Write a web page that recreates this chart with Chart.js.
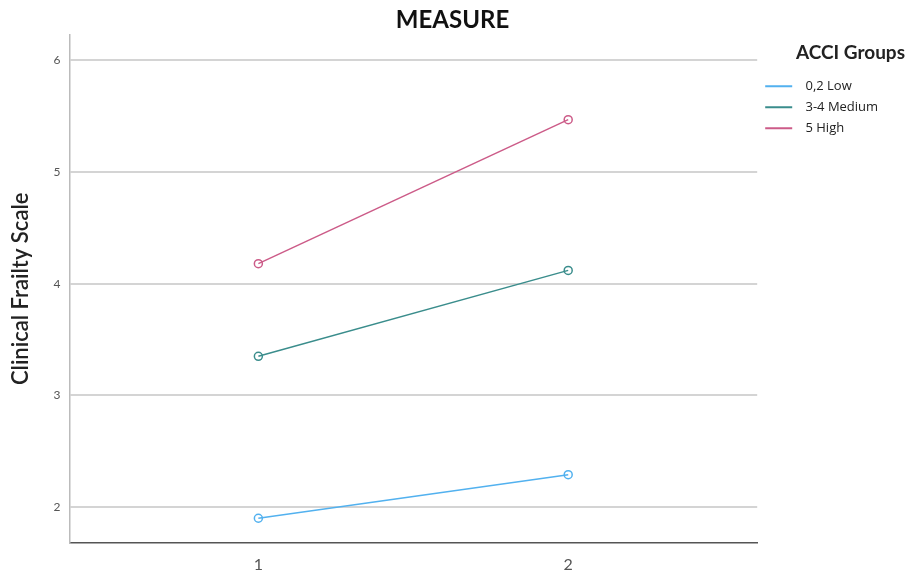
<!DOCTYPE html>
<html>
<head>
<meta charset="utf-8">
<script src="https://cdn.jsdelivr.net/npm/chart.js@4/dist/chart.umd.min.js"></script>
<style>
  body { margin: 0; background: #fff; }
  #wrap { width: 909px; height: 571px; }
</style>
</head>
<body>
<div id="wrap"><canvas id="measureChart"></canvas></div>
<script>
// data
const measures = [1, 2];
const groupNames = ['0,2 Low', '3-4 Medium', '5 High'];
const lowValues = [1.90, 2.29];
const mediumValues = [3.35, 4.12];
const highValues = [4.18, 5.47];
const yTicks = [2, 3, 4, 5, 6];
const groupColors = ['#52b1ef', '#3a8d8c', '#cc5b88'];

function toPoints(values) {
  return measures.map((m, i) => ({ x: m, y: values[i] }));
}

const seriesValues = [lowValues, mediumValues, highValues];

var ctx = document.getElementById('measureChart').getContext('2d');
var measureChart = new Chart(ctx, {
  type: 'line',
  data: {
    datasets: groupNames.map((name, i) => ({
      label: name,
      data: toPoints(seriesValues[i]),
      borderColor: groupColors[i],
      backgroundColor: groupColors[i],
      borderWidth: 1.5,
      pointRadius: 4,
      pointBorderWidth: 1.5,
      pointBackgroundColor: 'rgba(255,255,255,0)',
      pointBorderColor: groupColors[i]
    }))
  },
  options: {
    responsive: true,
    maintainAspectRatio: false,
    animation: false,
    layout: { padding: { top: 6, right: 4, bottom: -15, left: 0 } },
    plugins: {
      title: {
        display: true,
        text: 'MEASURE',
        font: { family: 'Lato', size: 24, weight: 'bold' },
        color: '#111',
        padding: { top: 0, bottom: 0 }
      },
      legend: {
        position: 'right',
        align: 'start',
        title: {
          display: true,
          text: 'ACCI Groups',
          position: 'end',
          font: { family: 'Lato', size: 19, weight: 'bold' },
          color: '#222',
          padding: { top: 37, bottom: 6 }
        },
        labels: {
          boxWidth: 27,
          boxHeight: 2,
          padding: 8,
          color: '#333',
          font: { family: 'Open Sans', size: 13 },
          // extra spaces widen the legend so the lines start near the plot edge
          generateLabels: (chart) => chart.data.datasets.map((ds, i) => ({
            text: '  ' + ds.label + '     ',
            fillStyle: ds.borderColor,
            strokeStyle: ds.borderColor,
            lineWidth: 0,
            hidden: false,
            datasetIndex: i
          }))
        }
      },
      tooltip: { enabled: false }
    },
    scales: {
      x: {
        type: 'linear',
        min: 0.39,
        max: 2.61,
        afterBuildTicks: (scale) => { scale.ticks = measures.map(v => ({ value: v })); },
        grid: { display: false, drawTicks: false },
        border: { display: true, color: '#555', width: 1.5 },
        ticks: {
          color: '#555',
          font: { family: 'Lato', size: 16 },
          padding: 12
        }
      },
      y: {
        min: 1.68,
        max: 6.23,
        afterBuildTicks: (scale) => { scale.ticks = yTicks.map(v => ({ value: v })); },
        grid: { color: '#d4d4d4', lineWidth: 2, drawTicks: false },
        border: { display: true, color: '#bbb', width: 1.5 },
        ticks: {
          color: '#555',
          font: { family: 'Lato', size: 12 },
          padding: 9
        },
        title: {
          display: true,
          text: 'Clinical Frailty Scale',
          color: '#222',
          font: { family: 'Lato', size: 22, weight: '600' },
          padding: { top: 8, bottom: 10 }
        }
      }
    }
  }
});
</script>
</body>
</html>
